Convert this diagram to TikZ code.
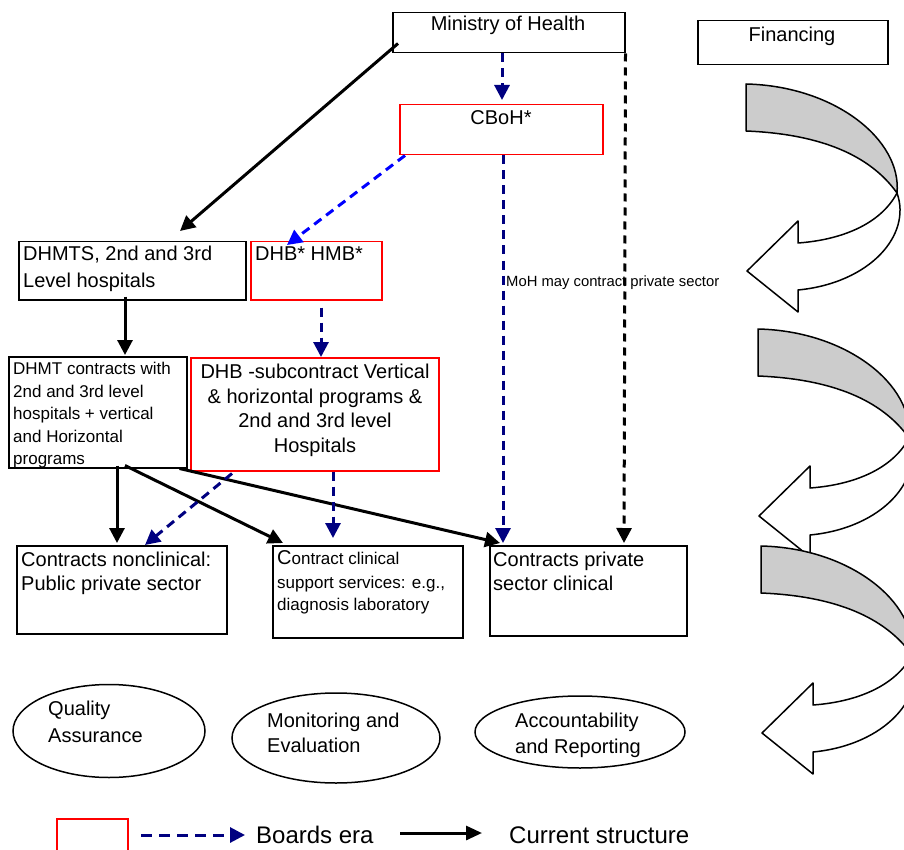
\documentclass[tikz,border=0pt]{standalone}
\usepackage{fontspec}
\setmainfont{Liberation Sans}
\usetikzlibrary{arrows.meta,calc}
\definecolor{navyc}{RGB}{0,0,128}
\definecolor{brightblue}{RGB}{0,0,255}
\definecolor{bandgrey}{RGB}{204,204,204}
\newcommand\szA{\fontsize{20}{24}\selectfont}
\newcommand\szB{\fontsize{17}{20}\selectfont}
\newcommand\szD{\fontsize{14.8}{17}\selectfont}
\newcommand\szE{\fontsize{24}{28}\selectfont}
\newcommand\uturnshape{%
  \filldraw[band, fill=bandgrey] (746,84) .. controls (835,86) and (902,140) .. (897,193)
     .. controls (870,155) and (820,134) .. (746,131) -- cycle;
  \filldraw[band, fill=white] (897,193) .. controls (880,225) and (840,240) .. (798,243)
     -- (798,221) -- (747,271) -- (798,312) -- (798,290)
     .. controls (870,283) and (912,235) .. (897,193) -- cycle;
}
\tikzset{
  box/.style={draw=black, line width=1.5pt, inner sep=0pt, anchor=north west},
  rbox/.style={draw=red, line width=1.5pt, inner sep=0pt, anchor=north west},
  oval/.style={draw=black, line width=1.5pt, ellipse, inner sep=0pt},
  txt/.style={inner sep=0pt, anchor=base west},
  ctxt/.style={inner sep=0pt, anchor=base},
  band/.style={draw=black, line width=1.5pt, line join=round},
  tip/.style={-{Triangle[length=15pt,width=15pt]}},
  solidarrow/.style={tip, line width=3pt, black},
  navydash/.style={tip, line width=3pt, navyc, dash pattern=on 9pt off 6pt},
  bluedash/.style={tip, line width=3pt, brightblue, dash pattern=on 9pt off 6pt},
  blackdash/.style={tip, line width=3pt, black, dash pattern=on 8pt off 6pt},
}
\usetikzlibrary{shapes.geometric}
\begin{document}
\begin{tikzpicture}[x=1pt, y=-1pt]
\useasboundingbox (0,0) rectangle (904,850);
\fill[white] (0,0) rectangle (904,850);

% curved arrows (financing flow)
\begin{scope}\uturnshape\end{scope}
\begin{scope}[shift={(12,245)}]\uturnshape\end{scope}
\begin{scope}[shift={(15,462)}]\uturnshape\end{scope}

% boxes
\node[box, minimum width=232pt, minimum height=40pt] (moh) at (392,12) {};
\node[box, minimum width=190pt, minimum height=44pt] (fin) at (697,20) {};
\node[rbox, minimum width=203pt, minimum height=50pt] (cboh) at (399,104) {};
\node[box, minimum width=227pt, minimum height=58pt] (dhmts) at (18,241) {};
\node[rbox, minimum width=131pt, minimum height=58pt] (dhb) at (250,241) {};
\node[box, minimum width=178pt, minimum height=111pt] (dhmtc) at (8,356) {};
\node[rbox, minimum width=248pt, minimum height=113pt] (dhbs) at (190,357) {};
\node[box, minimum width=210pt, minimum height=88pt] (cnc) at (16,545) {};
\node[box, minimum width=190pt, minimum height=92pt] (ccl) at (272,545) {};
\node[box, minimum width=197pt, minimum height=90pt] (cpr) at (489,545) {};

% texts in boxes
\node[ctxt] (tmoh) at (508,31) {\szA Ministry of Health};
\node[ctxt] (tfin) at (792,42) {\szA Financing};
\node[ctxt] (tcboh) at (501,125) {\szA CBoH*};
\node[txt] (tdhmts1) at (23,261) {\szA DHMTS, 2nd and 3rd};
\node[txt] (tdhmts2) at (23,287) {\szA Level hospitals};
\node[txt] (tdhb) at (255,261) {\szA DHB* HMB*};
\node[txt] (tdhmtc1) at (13,374) {\szB DHMT contracts with};
\node[txt] (tdhmtc2) at (13,397) {\szB 2nd and 3rd level};
\node[txt] (tdhmtc3) at (13,419) {\szB hospitals + vertical};
\node[txt] (tdhmtc4) at (13,442) {\szB and Horizontal};
\node[txt] (tdhmtc5) at (13,464) {\szB programs};
\node[ctxt] (tdhbs1) at (315,378) {\szA DHB -subcontract Vertical};
\node[ctxt] (tdhbs2) at (315,403) {\szA \& horizontal programs \&};
\node[ctxt] (tdhbs3) at (315,427) {\szA 2nd and 3rd level};
\node[ctxt] (tdhbs4) at (315,452) {\szA Hospitals};
\node[txt] (tcnc1) at (21,566) {\szA Contracts nonclinical:};
\node[txt] (tcnc2) at (21,590) {\szA Public private sector};
\node[txt] (tccl1) at (277,564) {{\szA C}\szB ontract clinical};
\node[txt] (tccl2) at (277,588) {\szB support services: e.g.,};
\node[txt] (tccl3) at (277,610) {\szB diagnosis laboratory};
\node[txt] (tcpr1) at (493,566) {\szA Contracts private};
\node[txt] (tcpr2) at (493,590) {\szA sector clinical};

% ellipses
\node[oval, minimum width=192pt, minimum height=93pt] (qa) at (109,731) {};
\node[oval, minimum width=208pt, minimum height=90pt] (me) at (336,738) {};
\node[oval, minimum width=210pt, minimum height=72pt] (ar) at (580,732) {};
\node[txt] (tqa1) at (48,715) {\szA Quality};
\node[txt] (tqa2) at (48,742) {\szA Assurance};
\node[txt] (tme1) at (267,727) {\szA Monitoring and};
\node[txt] (tme2) at (267,752) {\szA Evaluation};
\node[txt] (tar1) at (515,727) {\szA Accountability};
\node[txt] (tar2) at (515,753) {\szA and Reporting};

% connectors
\draw[solidarrow] ($(moh.south west)+(6,-10)$) -- ($(dhmts.north west)+(162,-10)$);
\draw[navydash] ($(moh.south west)+(110,0)$) -- ($(cboh.north west)+(103,-4)$);
\draw[blackdash] (moh.south east) -- ($(cpr.north west)+(135,-2)$);
\draw[bluedash] ($(cboh.south west)+(6,0)$) -- ($(dhb.north west)+(37,4)$);
\draw[navydash] ($(cboh.south west)+(104,0)$) -- ($(cpr.north west)+(14,-2)$);
\node[txt] (tmay) at (506,286) {\szD MoH may contract private sector};
\draw[solidarrow] ($(dhmts.south west)+(107,-4)$) -- ($(dhmtc.north west)+(117,-1)$);
\draw[navydash] ($(dhb.south west)+(71,7)$) -- ($(dhbs.north west)+(131,0)$);
\draw[solidarrow] ($(dhmtc.south west)+(109,-3)$) -- ($(cnc.north west)+(101,-2)$);
\draw[solidarrow] ($(dhmtc.south west)+(117,-3)$) -- ($(ccl.north west)+(11,-2)$);
\draw[solidarrow] ($(dhmtc.south east)+(-8,0)$) -- ($(cpr.north west)+(11,-2)$);
\draw[navydash] ($(dhbs.south west)+(42,2)$) -- ($(cnc.north west)+(129,0)$);
\draw[navydash] ($(dhbs.south west)+(143,0)$) -- ($(ccl.north west)+(61,-7)$);

% legend
\node[rbox, minimum width=71pt, minimum height=40pt] (lbox) at (56,818) {};
\coordinate (l1a) at (141,835);
\coordinate (l1b) at (245,835);
\coordinate (l2a) at (400,833);
\coordinate (l2b) at (482,833);
\draw[navydash, dash pattern=on 11pt off 7pt] (l1a) -- (l1b);
\draw[solidarrow, -{Triangle[length=16pt,width=14pt]}] (l2a) -- (l2b);
\node[txt] (lt1) at (256,843) {\szE Boards era};
\node[txt] (lt2) at (509,843) {\szE Current structure};
\end{tikzpicture}
\end{document}
